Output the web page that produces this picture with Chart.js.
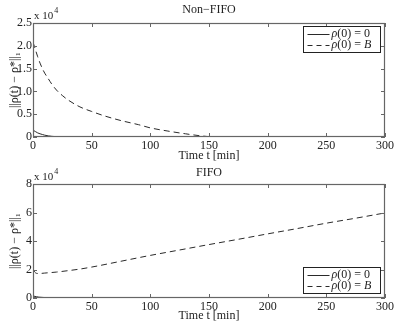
<!DOCTYPE html>
<html>
<head>
<meta charset="utf-8">
<script src="https://cdn.jsdelivr.net/npm/chart.js@4"></script>
<style>
  body { margin: 0; background: #fff; }
  .box { position: absolute; left: 0; }
</style>
</head>
<body>
<div class="box" style="top:0"><canvas id="topChart" width="396" height="163"></canvas></div>
<div class="box" style="top:163px"><canvas id="bottomChart" width="396" height="164"></canvas></div>
<script>
// values are in units of 10^4
let tNonFifo = [0, 2, 4, 6, 8, 10, 13, 16, 20, 25, 30, 40, 50, 60, 75, 90, 100, 115, 130, 145, 155, 200, 250, 300];
let nonFifoZero = [0.15, 0.12, 0.09, 0.07, 0.055, 0.04, 0.025, 0.015, 0.006, 0.002, 0, 0, 0, 0, 0, 0, 0, 0, 0, 0, 0, 0, 0, 0];
let nonFifoB = [2.08, 1.92, 1.76, 1.62, 1.5, 1.4, 1.28, 1.16, 1.03, 0.91, 0.81, 0.66, 0.56, 0.47, 0.36, 0.27, 0.2, 0.13, 0.07, 0.02, 0, 0, 0, 0];

let tFifo = [0, 3, 5, 10, 13, 20, 30, 40, 50, 75, 100, 125, 150, 175, 200, 225, 250, 275, 300];
let fifoZero = [0.14, 0.09, 0.06, 0.03, 0.015, 0.004, 0, 0, 0, 0, 0, 0, 0, 0, 0, 0, 0, 0, 0];
let fifoB = [1.96, 1.73, 1.72, 1.75, 1.77, 1.82, 1.92, 2.03, 2.17, 2.58, 2.99, 3.37, 3.75, 4.12, 4.5, 4.87, 5.25, 5.6, 5.97];

let xTicks = [0, 50, 100, 150, 200, 250, 300];
let legendLabels = ["ρ(0) = 0", "ρ(0) = B"];

let serif = "'Liberation Serif', 'DejaVu Serif', serif";
let lineColor = "#2a2a2a";
let frameColor = "#666";

function pts(t, v) {
  return t.map((x, i) => ({x: x, y: v[i]}));
}

// draws the matlab-like frame, inward ticks, title, multiplier and legend
let matlabLook = {
  id: "matlabLook",
  afterDatasetsDraw(chart, args, opts) {
    let ctx = chart.ctx;
    let a = chart.chartArea;
    let xs = chart.scales.x, ys = chart.scales.y;
    ctx.save();
    ctx.strokeStyle = frameColor;
    ctx.lineWidth = 1.2;
    ctx.strokeRect(Math.round(a.left) + 0.5, Math.round(a.top) + 0.5, Math.round(a.right - a.left) - 1, Math.round(a.bottom - a.top) - 1);
    ctx.lineWidth = 1;
    ctx.beginPath();
    xs.ticks.forEach(tk => {
      let px = Math.round(xs.getPixelForValue(tk.value)) + 0.5;
      ctx.moveTo(px, a.bottom); ctx.lineTo(px, a.bottom - 4);
      ctx.moveTo(px, a.top); ctx.lineTo(px, a.top + 4);
    });
    ys.ticks.forEach(tk => {
      let py = Math.round(ys.getPixelForValue(tk.value)) + 0.5;
      ctx.moveTo(a.left, py); ctx.lineTo(a.left + 4, py);
      ctx.moveTo(a.right, py); ctx.lineTo(a.right - 4, py);
    });
    ctx.stroke();

    // title
    ctx.fillStyle = "#222";
    ctx.font = "12px " + serif;
    ctx.textAlign = "center";
    ctx.textBaseline = "middle";
    ctx.fillText(opts.title, (a.left + a.right) / 2, 10);

    // x 10^4
    ctx.textAlign = "left";
    ctx.textBaseline = "alphabetic";
    ctx.font = "11px " + serif;
    ctx.fillText("x 10", a.left + 1, a.top - 4);
    let w = ctx.measureText("x 10").width;
    ctx.font = "8px " + serif;
    ctx.fillText("4", a.left + 2 + w, a.top - 10);

    // legend
    let lw = 77, lh = 26;
    let lx = Math.round(a.right - 5 - lw) + 0.5;
    let ly = opts.legendTop ? Math.round(a.top + 3) + 0.5 : Math.round(a.bottom - 5 - lh) + 0.5;
    ctx.fillStyle = "#fff";
    ctx.fillRect(lx, ly, lw, lh);
    ctx.strokeStyle = "#222";
    ctx.strokeRect(lx, ly, lw, lh);
    let dashes = [[], [5, 4]];
    chart.data.datasets.forEach((ds, i) => {
      let ry = ly + 7 + i * 11;
      ctx.beginPath();
      ctx.setLineDash(dashes[i]);
      ctx.strokeStyle = lineColor;
      ctx.moveTo(lx + 4, Math.round(ry) + 0.5);
      ctx.lineTo(lx + 26, Math.round(ry) + 0.5);
      ctx.stroke();
      ctx.setLineDash([]);
      // label with italic symbols
      let label = legendLabels[i];
      let tx = lx + 28;
      ctx.fillStyle = "#222";
      ctx.textBaseline = "middle";
      for (let ch of label) {
        let italic = ch === "ρ" || ch === "B";
        ctx.font = (italic ? "italic " : "") + "12px " + serif;
        ctx.fillText(ch, tx, ry);
        tx += ctx.measureText(ch).width;
      }
    });
    ctx.restore();
  }
};

function makeChart(id, tArr, zeroArr, bArr, yMax, yStep, title, legendTop, pad, xHeight) {
  return new Chart(id, {
    type: "line",
    data: {
      datasets: [{
        label: legendLabels[0],
        data: pts(tArr, zeroArr),
        borderColor: lineColor,
        borderWidth: 1,
        pointRadius: 0,
        cubicInterpolationMode: "monotone"
      }, {
        label: legendLabels[1],
        data: pts(tArr, bArr),
        borderColor: lineColor,
        borderWidth: 1,
        borderDash: [6, 4],
        pointRadius: 0,
        cubicInterpolationMode: "monotone"
      }]
    },
    options: {
      responsive: false,
      animation: false,
      layout: { padding: pad },
      plugins: {
        legend: { display: false },
        tooltip: { enabled: false },
        matlabLook: { title: title, legendTop: legendTop }
      },
      scales: {
        x: {
          type: "linear",
          min: 0,
          max: 300,
          afterBuildTicks: s => { s.ticks = xTicks.map(v => ({value: v})); },
          afterFit: s => { s.height = xHeight; },
          grid: { display: false, drawTicks: false },
          border: { display: false },
          ticks: { color: "#222", padding: 2, font: { family: serif, size: 12 } },
          title: { display: true, text: "Time t [min]", color: "#222", padding: {top: 0, bottom: 0}, font: { family: serif, size: 12 } }
        },
        y: {
          min: 0,
          max: yMax,
          ticks: { stepSize: yStep, color: "#222", padding: 1, font: { family: serif, size: 12 } },
          afterFit: s => { s.width = 33; },
          grid: { display: false, drawTicks: false },
          border: { display: false },
          title: { display: true, text: "||ρ(t) − ρ*||₁", color: "#222", padding: {top: 8, bottom: 0}, font: { family: serif, size: 12 } }
        }
      }
    },
    plugins: [matlabLook]
  });
}

makeChart("topChart", tNonFifo, nonFifoZero, nonFifoB, 2.5, 0.5, "Non−FIFO", true, {top: 23, right: 11, left: 0, bottom: 0}, 26);
makeChart("bottomChart", tFifo, fifoZero, fifoB, 8, 2, "FIFO", false, {top: 21, right: 11, left: 0, bottom: 4}, 25);
</script>
</body>
</html>
